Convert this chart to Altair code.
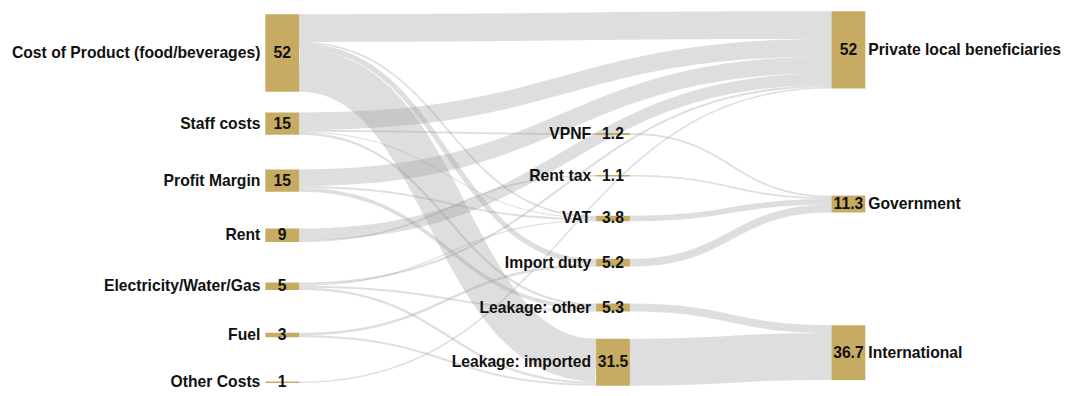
import altair as alt
import pandas as pd

# ---------------- data ----------------
node_names = [
    "Cost of Product (food/beverages)", "Staff costs", "Profit Margin", "Rent",
    "Electricity/Water/Gas", "Fuel", "Other Costs",
    "VPNF", "Rent tax", "VAT", "Import duty", "Leakage: other", "Leakage: imported",
    "Private local beneficiaries", "Government", "International",
]
node_labels = ["52", "15", "15", "9", "5", "3", "1",
               "1.2", "1.1", "3.8", "5.2", "5.3", "31.5",
               "52", "11.3", "36.7"]

link_source = [
    "Cost of Product (food/beverages)", "Cost of Product (food/beverages)",
    "Cost of Product (food/beverages)", "Cost of Product (food/beverages)",
    "Staff costs", "Staff costs", "Staff costs", "Staff costs",
    "Profit Margin", "Profit Margin", "Profit Margin",
    "Rent", "Rent",
    "Electricity/Water/Gas", "Electricity/Water/Gas", "Electricity/Water/Gas", "Electricity/Water/Gas",
    "Fuel", "Fuel",
    "Other Costs",
    "VPNF", "Rent tax", "VAT", "Import duty", "Leakage: other", "Leakage: imported",
]
link_target = [
    "Private local beneficiaries", "VAT", "Import duty", "Leakage: imported",
    "Private local beneficiaries", "VPNF", "VAT", "Leakage: other",
    "Private local beneficiaries", "VAT", "Leakage: other",
    "Private local beneficiaries", "Rent tax",
    "Private local beneficiaries", "VAT", "Leakage: other", "Leakage: imported",
    "Import duty", "Leakage: imported",
    "Private local beneficiaries",
    "Government", "Government", "Government", "Government", "International", "International",
]
link_value = [
    18.6, 1.2, 3.5, 28.7,
    11.8, 1.2, 0.5, 1.5,
    11.2, 1.3, 2.5,
    7.9, 1.1,
    1.4, 0.8, 1.3, 1.5,
    1.7, 1.3,
    1.0,
    1.2, 1.1, 3.8, 5.2, 5.3, 31.5,
]

# ---------------- layout settings ----------------
W, H = 1050, 380
KY = 1.5                      # pixels per unit of value
H_UNITS = H / KY
COL_X = [0.2467, 0.5638, 0.7895]
NODE_W = 0.0324
COL_SPAN = [(0.013, 0.99), (0.328, 0.997), (0.005, 0.982)]
NODE_COLOR = "#c8ab62"
LINK_COLOR = "#9a9a9a"
FONT = "Liberation Sans"
FS = 15.8

# ---------------- sankey layout ----------------
N = len(node_names)
idx = {n: i for i, n in enumerate(node_names)}
src = [idx[s] for s in link_source]
tgt = [idx[t] for t in link_target]
L = len(link_value)

depth = [0] * N
changed = True
while changed:
    changed = False
    for s, t in zip(src, tgt):
        if depth[t] < depth[s] + 1:
            depth[t] = depth[s] + 1
            changed = True
maxd = max(depth)
has_out = set(src)
col = [depth[i] if i in has_out else maxd for i in range(N)]

vin = [0.0] * N
vout = [0.0] * N
for s, t, v in zip(src, tgt, link_value):
    vout[s] += v
    vin[t] += v
node_value = [max(a, b) for a, b in zip(vin, vout)]

y0 = [0.0] * N
y1 = [0.0] * N
columns = {}
for i, c in enumerate(col):
    columns.setdefault(c, []).append(i)
for c, members in columns.items():
    top, bot = COL_SPAN[c][0] * H_UNITS, COL_SPAN[c][1] * H_UNITS
    hs = [node_value[i] for i in members]
    n = len(members)
    gap = (bot - top - sum(hs)) / (n - 1)
    ca, y = [], top
    for h in hs:
        ca.append(y + h / 2)
        y += h + gap
    cf, cl = top + hs[0] / 2, bot - hs[-1] / 2
    cb = [cf + k * (cl - cf) / (n - 1) for k in range(n)]
    for k, i in enumerate(members):
        cc = (ca[k] + cb[k]) / 2
        y0[i] = cc - hs[k] / 2
        y1[i] = cc + hs[k] / 2

x0 = [COL_X[c] for c in col]
x1 = [COL_X[c] + NODE_W for c in col]

# link stacking
sy = [0.0] * L
ty = [0.0] * L
for i in range(N):
    outs = sorted([l for l in range(L) if src[l] == i], key=lambda l: y0[tgt[l]])
    y = y0[i]
    for l in outs:
        sy[l] = y
        y += link_value[l]
    ins = sorted([l for l in range(L) if tgt[l] == i], key=lambda l: y0[src[l]])
    y = y0[i]
    for l in ins:
        ty[l] = y
        y += link_value[l]

rows = []
STEPS = 48
for l in range(L):
    xa, xb = x1[src[l]], x0[tgt[l]]
    xm = (xa + xb) / 2
    ya = sy[l] + link_value[l] / 2
    yb = ty[l] + link_value[l] / 2
    w = max(link_value[l], 1.0 / KY)
    for k in range(STEPS + 1):
        t = k / STEPS
        u = 1 - t
        bx = u ** 3 * xa + 3 * u * u * t * xm + 3 * u * t * t * xm + t ** 3 * xb
        by = (u ** 3 + 3 * u * u * t) * ya + (3 * u * t * t + t ** 3) * yb
        rows.append({"link": l, "k": k, "x": bx, "y": by, "sw": w})
links_df = pd.DataFrame(rows)

nodes_df = pd.DataFrame({
    "name": node_names,
    "label": node_labels,
    "col": col,
    "x0": x0, "x1": x1,
    "xc": [(a + b) / 2 for a, b in zip(x0, x1)],
    "y0": y0, "y1": y1,
    "yc": [(a + b) / 2 for a, b in zip(y0, y1)],
})

xs = alt.Scale(domain=[0, 1], nice=False, zero=False)
ys = alt.Scale(domain=[0, H_UNITS], nice=False, zero=False, reverse=True)

links = alt.Chart(links_df).mark_line(
    stroke=LINK_COLOR, strokeOpacity=0.33, strokeCap="butt", strokeJoin="round"
).encode(
    x=alt.X("x:Q", scale=xs, axis=None),
    y=alt.Y("y:Q", scale=ys, axis=None),
    strokeWidth=alt.StrokeWidth("sw:Q", scale=alt.Scale(domain=[0, H_UNITS], range=[0, H]), legend=None),
    detail="link:N",
    order="k:Q",
)

nodes = alt.Chart(nodes_df).mark_rect(color=NODE_COLOR).encode(
    x=alt.X("x0:Q", scale=xs, axis=None), x2="x1:Q",
    y=alt.Y("y0:Q", scale=ys, axis=None), y2="y1:Q",
)

text_common = dict(font=FONT, fontSize=FS, fontWeight="bold", color="#111111", baseline="middle")

values_txt = nodes.mark_text(align="center", **text_common).encode(
    x=alt.X("xc:Q", scale=xs, axis=None),
    y=alt.Y("yc:Q", scale=ys, axis=None),
    text="label:N",
)
left_names = alt.Chart(nodes_df).transform_filter("datum.col < 2").mark_text(
    align="right", dx=-5, **text_common
).encode(
    x=alt.X("x0:Q", scale=xs, axis=None),
    y=alt.Y("yc:Q", scale=ys, axis=None),
    text="name:N",
)
right_names = alt.Chart(nodes_df).transform_filter("datum.col == 2").mark_text(
    align="left", dx=3, **text_common
).encode(
    x=alt.X("x1:Q", scale=xs, axis=None),
    y=alt.Y("yc:Q", scale=ys, axis=None),
    text="name:N",
)

chart = alt.layer(links, nodes, values_txt, left_names, right_names).properties(
    width=W, height=H,
    padding={"left": 0, "top": 0, "right": 14, "bottom": 6},
    autosize=alt.AutoSizeParams(type="none"),
).configure_view(stroke=None)

chart.save("out.html", embed_options={"renderer": "svg", "actions": False})
